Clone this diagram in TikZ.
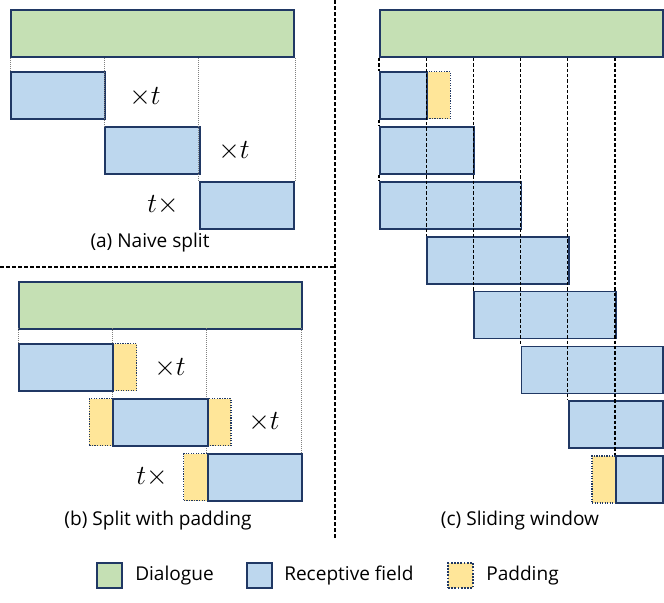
\documentclass[tikz,border=0pt]{standalone}
\usepackage{fontspec}
\setmainfont{Open Sans}
\usetikzlibrary{positioning}
\definecolor{dlgGreen}{RGB}{197,224,180}
\definecolor{rfBlue}{RGB}{189,215,238}
\definecolor{padYellow}{RGB}{255,230,153}
\definecolor{boxBorder}{RGB}{32,56,100}
\tikzset{
  dialogue/.style={draw=boxBorder, fill=dlgGreen, line width=1.4pt, minimum width=212.4pt, minimum height=35.25pt, inner sep=0pt, anchor=north west},
  field/.style={draw=boxBorder, fill=rfBlue, line width=1.4pt, minimum height=35.25pt, inner sep=0pt, anchor=north west},
  pad/.style={draw=boxBorder, densely dotted, fill=padYellow, line width=0.9pt, minimum width=17.7pt, minimum height=35.25pt, inner sep=0pt, anchor=north west},
  onecell/.style={minimum width=35.4pt},
  twocell/.style={minimum width=70.8pt},
  threecell/.style={minimum width=106.2pt},
  guide/.style={gray, densely dotted, line width=0.5pt},
  window/.style={black, dash pattern=on 2.5pt off 1.5pt, line width=0.8pt},
  divider/.style={black, dash pattern=on 3pt off 1.5pt, line width=0.8pt},
  mult/.style={font=\fontsize{21}{24}\selectfont, inner sep=0.75pt},
  caption/.style={font=\fontsize{14.3}{17}\selectfont, inner sep=0.75pt},
  legendkey/.style={line width=1.4pt, minimum width=18.75pt, minimum height=18.75pt, inner sep=0pt},
  legendtext/.style={font=\fontsize{14.3}{17}\selectfont, inner sep=0.75pt, anchor=west},
}
\begin{document}
\begin{tikzpicture}[x=0.75pt,y=0.75pt,yscale=-1,xscale=1]
\useasboundingbox (0,0) rectangle (664,603);

%Shape: Dividers
\draw[divider] (0,267) -- (335,267) ;
\draw[divider] (335,0) -- (335,540) ;

%%% (a) Naive split
%Shape: Rectangle [dialogue]
\node[dialogue] (dlgA) at (10,9) {};
%Shape: Rectangle [receptive fields]
\node[field, twocell] (splitA1) at (10,71) {};
\node[field, twocell] (splitA2) at (104.4,126) {};
\node[field, twocell] (splitA3) at (198.8,181) {};
%Straight Lines [guides]
\draw[guide] (splitA1.north west |- dlgA.south) -- (splitA1.north west) ;
\draw[guide] (splitA2.north west |- dlgA.south) -- (splitA2.north west) ;
\draw[guide] (splitA3.north west |- dlgA.south) -- (splitA3.north west) ;
\draw[guide] (splitA3.north east |- dlgA.south) -- (splitA3.north east) ;
% Text Node
\node[mult] (multA1) at (145,97) {$\times t$};
\node[mult] (multA2) at (234,151) {$\times t$};
\node[mult] (multA3) at (163,205) {$t\times$};
\node[caption] (capA) at (150,243) {(a) Naive split};

%%% (b) Split with padding
%Shape: Rectangle [dialogue]
\node[dialogue] (dlgB) at (18,281) {};
%Straight Lines [guides]
\draw[guide] (18,328) -- (18,343) ;
\draw[guide] (112.4,328) -- (112.4,398) ;
\draw[guide] (206.8,328) -- (206.8,453) ;
\draw[guide] (301.2,328) -- (301.2,453) ;
%Shape: Rectangle [padding]
\node[pad] (padB1) at (112.4,343) {};
\node[pad] (padB2) at (88.8,398) {};
\node[pad] (padB3) at (206.8,398) {};
\node[pad] (padB4) at (183.2,453) {};
%Shape: Rectangle [receptive fields]
\node[field, twocell] (splitB1) at (18,343) {};
\node[field, twocell] (splitB2) at (112.4,398) {};
\node[field, twocell] (splitB3) at (206.8,453) {};
% Text Node
\node[mult] (multB1) at (170,368) {$\times t$};
\node[mult] (multB2) at (264,422) {$\times t$};
\node[mult] (multB3) at (152,477) {$t\times$};
\node[caption] (capB) at (158,521) {(b) Split with padding};

%%% (c) Sliding window
%Shape: Rectangle [dialogue]
\node[dialogue] (dlgC) at (379,9) {};
%Shape: Rectangle [padding]
\node[pad] (padC1) at (426.2,71) {};
\node[pad] (padC8) at (591.4,455.3) {};
%Shape: Rectangle [windows]
\node[field, onecell] (winA) at (379,71) {};
\node[field, twocell] (winB) at (379,125.9) {};
\node[field, threecell] (winC) at (379,180.8) {};
\node[field, threecell] (winD) at (426.2,235.7) {};
\node[field, threecell] (winE) at (473.4,290.6) {};
\node[field, threecell] (winF) at (520.6,345.5) {};
\node[field, twocell] (winG) at (567.8,400.4) {};
\node[field, onecell] (winH) at (615,455.3) {};
%Straight Lines [window borders]
\draw[window] (winA.north west |- dlgC.south) -- (winA.north west) ;
\draw[window] (winA.south west) -- (winB.north west) ;
\draw[window] (winB.south west) -- (winC.north west) ;
\draw[window] (winD.north west |- dlgC.south) -- (winD.north west) ;
\draw[window] (winE.north west |- dlgC.south) -- (winE.north west) ;
\draw[window] (winF.north west |- dlgC.south) -- (winF.north west) ;
\draw[window] (winG.north west |- dlgC.south) -- (winG.north west) ;
\draw[window] (winH.north west |- dlgC.south) -- (winH.north west) ;
\draw[window] (winF.north east |- dlgC.south) -- (winF.north east) ;
% Text Node
\node[caption] (capC) at (520,521) {(c) Sliding window};

%%% Legend
\node[legendkey, draw=boxBorder, fill=dlgGreen] (keyDlg) at (109.5,575.5) {};
\node[legendtext] (txtDlg) at (134,575.5) {Dialogue};
\node[legendkey, draw=boxBorder, fill=rfBlue] (keyField) at (259.5,575.5) {};
\node[legendtext] (txtField) at (283,575.5) {Receptive field};
\node[legendkey, draw=boxBorder, densely dotted, line width=0.9pt, fill=padYellow] (keyPad) at (460.5,575.5) {};
\node[legendtext] (txtPad) at (485,575.5) {Padding};

\end{tikzpicture}
\end{document}
